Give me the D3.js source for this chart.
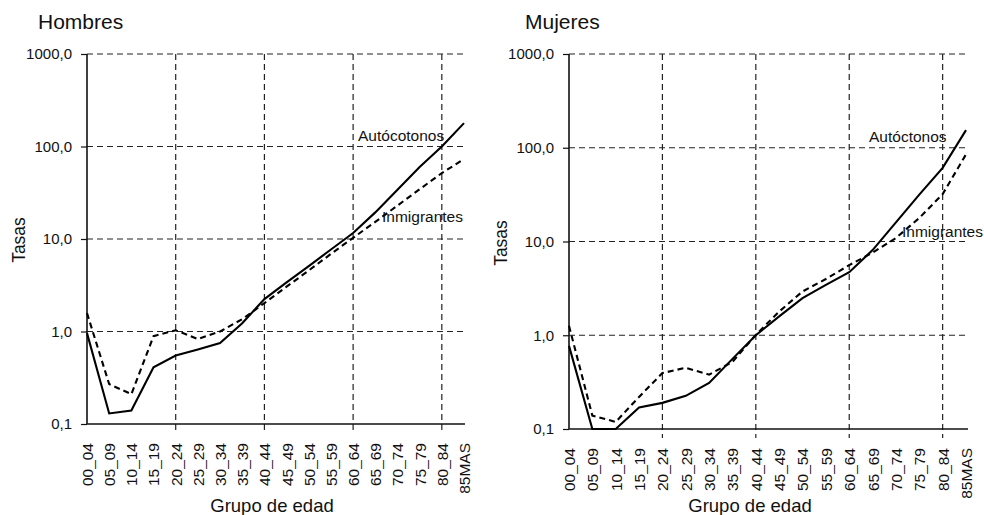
<!DOCTYPE html>
<html>
<head>
<meta charset="utf-8">
<script src="https://cdn.jsdelivr.net/npm/d3@7"></script>
<style>
  body { margin: 0; background: #fff; }
  text { font-family: "Liberation Sans", Arial, Helvetica, sans-serif; fill: #111; }
</style>
</head>
<body>
<svg id="chart" width="984" height="515"></svg>
<script>
// age groups along the x axis
var grupos = ["00_04","05_09","10_14","15_19","20_24","25_29","30_34","35_39","40_44",
              "45_49","50_54","55_59","60_64","65_69","70_74","75_79","80_84","85MAS"];

// rates (log scale)
var hombresAutoctonos  = [0.96,0.13,0.14,0.41,0.55,0.64,0.75,1.23,2.24,3.4,5.1,7.7,11.6,19.4,34,60,100,179];
var hombresInmigrantes = [1.58,0.27,0.21,0.89,1.03,0.83,1.0,1.36,2.03,3.05,4.57,6.9,10.3,15.3,23,34.5,51.6,73];
var mujeresAutoctonos  = [0.77,0.1,0.1,0.17,0.19,0.226,0.31,0.56,1.0,1.59,2.49,3.45,4.7,8.1,16,31.6,61,154];
var mujeresInmigrantes = [1.26,0.139,0.119,0.22,0.395,0.45,0.38,0.52,1.01,1.79,2.93,3.98,5.6,7.6,10.9,17.8,32,85];

var yTicks = [0.1, 1, 10, 100, 1000];
var xGrid = ["20_24","40_44","60_64","80_84"];

var svg = d3.select("#chart");
var fmt = function(d){ return d3.format(".1f")(d).replace(".", ","); };

function panel(opt){
  var g = svg.append("g");
  var x = d3.scalePoint().domain(grupos).range([opt.x0, opt.x1]);
  var y = d3.scaleLog().domain([0.1, 1000]).range([opt.yb, opt.yt]);

  // title
  g.append("text").attr("x", opt.tx).attr("y", 29).style("font-size", "21px").text(opt.title);

  // dashed grid, horizontal
  g.selectAll(".hg").data(yTicks.slice(1)).enter().append("line")
    .attr("x1", opt.x0).attr("x2", opt.gx)
    .attr("y1", function(d){ return y(d); }).attr("y2", function(d){ return y(d); })
    .attr("stroke", "#222").attr("stroke-width", 1.2).attr("stroke-dasharray", "6,4");

  // dashed grid, vertical (runs a bit under the axis)
  g.selectAll(".vg").data(xGrid).enter().append("line")
    .attr("x1", function(d){ return x(d); }).attr("x2", function(d){ return x(d); })
    .attr("y1", opt.yt).attr("y2", opt.yb + 9)
    .attr("stroke", "#222").attr("stroke-width", 1.2).attr("stroke-dasharray", "6,4");

  // y axis
  var ya = g.append("g").attr("transform", "translate(" + opt.x0 + ",0)")
    .call(d3.axisLeft(y).tickValues(yTicks).tickFormat(fmt).tickSize(6).tickPadding(9));
  ya.select(".domain").attr("stroke", "#111").attr("stroke-width", 1.6).attr("d", "M0," + opt.yt + "V" + opt.yb);
  ya.selectAll(".tick line").attr("stroke", "#111").attr("stroke-width", 1.2);
  ya.selectAll("text").style("font-size", "15px").attr("fill", "#111");

  // x axis, labels rotated
  var xa = g.append("g").attr("transform", "translate(0," + opt.yb + ")")
    .call(d3.axisBottom(x).tickSize(0));
  xa.select(".domain").attr("stroke", "#111").attr("stroke-width", 1.6).attr("d", "M" + opt.x0 + ",0H" + opt.gx);
  xa.selectAll("text").style("font-size", "15.5px").attr("fill", "#111")
    .attr("text-anchor", "end").attr("dy", "0.35em")
    .attr("transform", "translate(0,19) rotate(-90)").attr("x", 0).attr("y", 0);

  // axis titles
  g.append("text").attr("transform", "translate(" + opt.yl + "," + opt.ylc + ") rotate(-90)")
    .attr("text-anchor", "middle").style("font-size", "17.5px").text("Tasas");
  g.append("text").attr("x", opt.xlc).attr("y", 512).attr("text-anchor", "middle")
    .style("font-size", "18.5px").text("Grupo de edad");

  var line = d3.line().x(function(d, i){ return x(grupos[i]); }).y(function(d){ return y(d); });

  g.append("path").datum(opt.aut).attr("d", line)
    .attr("fill", "none").attr("stroke", "#000").attr("stroke-width", 2.1);
  g.append("path").datum(opt.inm).attr("d", line)
    .attr("fill", "none").attr("stroke", "#000").attr("stroke-width", 2.1).attr("stroke-dasharray", "6,4");

  g.append("text").attr("x", opt.al[0]).attr("y", opt.al[1]).style("font-size", "15.5px").text(opt.autLabel);
  g.append("text").attr("x", opt.il[0]).attr("y", opt.il[1]).style("font-size", "15.5px").text("Inmigrantes");
}

panel({ title: "Hombres", tx: 38, x0: 87, x1: 464, gx: 465, yt: 54, yb: 424,
        yl: 25, ylc: 240, xlc: 272, aut: hombresAutoctonos, inm: hombresInmigrantes,
        autLabel: "Autócotonos", al: [358, 141], il: [382, 222] });

panel({ title: "Mujeres", tx: 525, x0: 569, x1: 966, gx: 968, yt: 54, yb: 429,
        yl: 507, ylc: 243, xlc: 750, aut: mujeresAutoctonos, inm: mujeresInmigrantes,
        autLabel: "Autóctonos", al: [869, 142], il: [902, 237] });
</script>
</body>
</html>
